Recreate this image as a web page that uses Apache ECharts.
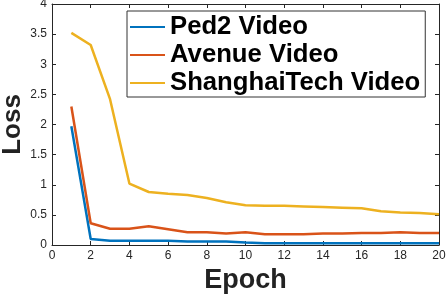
<!DOCTYPE html>
<html><head><meta charset="utf-8">
<script src="https://cdn.jsdelivr.net/npm/echarts@6/dist/echarts.min.js"></script>
<style>html,body{margin:0;padding:0;background:#fff}#c{width:447px;height:294px}</style>
</head><body><div id="c"></div>
<script>
const epochs = [1,2,3,4,5,6,7,8,9,10,11,12,13,14,15,16,17,18,19,20];
const ped2 = [1.97,0.10,0.07,0.07,0.07,0.07,0.06,0.06,0.06,0.04,0.03,0.03,0.03,0.03,0.03,0.03,0.03,0.03,0.03,0.03];
const avenue = [2.30,0.36,0.27,0.27,0.31,0.26,0.21,0.21,0.19,0.21,0.18,0.18,0.18,0.19,0.19,0.20,0.20,0.21,0.20,0.20];
const shanghai = [3.52,3.32,2.42,1.02,0.88,0.85,0.83,0.78,0.71,0.66,0.65,0.65,0.64,0.63,0.62,0.61,0.56,0.54,0.53,0.51];
const seriesNames = ['Ped2 Video','Avenue Video','ShanghaiTech Video'];
const colors = ['#0072BD','#D95319','#EDB120'];
const xTicks = {min:0,max:20,interval:2};
const yTicks = {min:0,max:4,interval:0.5};

const chart = echarts.init(document.getElementById('c'));
const axisCol = '#262626';
const font = '"Liberation Sans", Arial, Helvetica, sans-serif';
const baseAxis = {
  axisLine:{show:true,onZero:false,lineStyle:{color:axisCol,width:1}},
  axisTick:{show:true,inside:true,length:4,lineStyle:{color:axisCol}},
  splitLine:{show:false}
};
function mk(vals){return epochs.map((e,i)=>[e,vals[i]]);}
const allVals=[ped2,avenue,shanghai];
chart.setOption({
  animation:false,
  backgroundColor:'#fff',
  grid:{left:52,right:8,top:4,bottom:49,containLabel:false,outerBoundsMode:'none'},
  xAxis:[
    Object.assign({type:'value',position:'bottom',min:xTicks.min,max:xTicks.max,interval:xTicks.interval,
      name:'Epoch',nameLocation:'middle',nameGap:22,nameMoveOverlap:false,
      nameTextStyle:{fontFamily:font,fontWeight:'bold',fontSize:27,color:'#222'},
      axisLabel:{color:axisCol,fontSize:12,fontFamily:font,margin:5}},baseAxis),
    Object.assign({type:'value',position:'top',min:xTicks.min,max:xTicks.max,interval:xTicks.interval,
      axisLabel:{show:false}},baseAxis)
  ],
  yAxis:[
    Object.assign({type:'value',position:'left',min:yTicks.min,max:yTicks.max,interval:yTicks.interval,
      name:'Loss',nameLocation:'middle',nameGap:26,nameRotate:90,nameMoveOverlap:false,
      nameTextStyle:{fontFamily:font,fontWeight:'bold',fontSize:26,color:'#222'},
      axisLabel:{color:axisCol,fontSize:12,fontFamily:font,margin:5}},baseAxis),
    Object.assign({type:'value',position:'right',min:yTicks.min,max:yTicks.max,interval:yTicks.interval,
      axisLabel:{show:false}},baseAxis)
  ],
  legend:{
    left:127,top:11,orient:'vertical',
    padding:[2,5,0,3],itemGap:0,
    borderColor:'#333',borderWidth:1,backgroundColor:'#fff',
    icon:'rect',itemWidth:35,itemHeight:2,
    textStyle:{fontFamily:font,fontWeight:'bold',fontSize:25.7,color:'#000',lineHeight:28},
    data:seriesNames
  },
  series:seriesNames.map((n,i)=>({
    name:n,type:'line',data:mk(allVals[i]),symbol:'none',
    lineStyle:{color:colors[i],width:2.5},itemStyle:{color:colors[i]},z:3+i
  }))
});
</script></body></html>
